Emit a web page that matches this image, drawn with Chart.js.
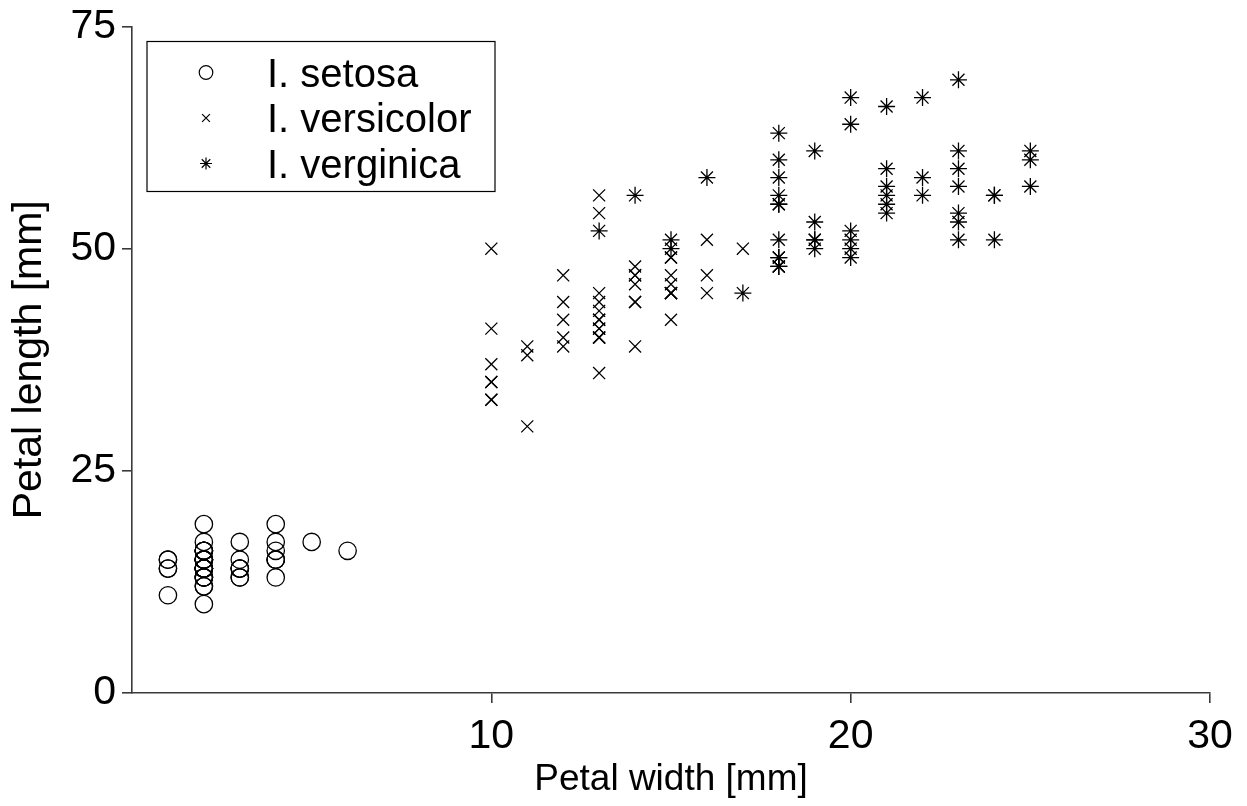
<!DOCTYPE html>
<html>
<head>
<meta charset="utf-8">
<script src="https://cdn.jsdelivr.net/npm/chart.js@4"></script>
<style>
  html, body { margin: 0; padding: 0; background: #fff; }
  #wrap { width: 1247px; height: 806px; }
</style>
</head>
<body>
<div id="wrap"><canvas id="irisChart"></canvas></div>
<script>
const speciesNames = ['I. setosa', 'I. versicolor', 'I. verginica'];

// petal width [mm] / petal length [mm]
const setosaWidth = [
    1, 1, 1, 1, 1,
    2, 2, 2, 2, 2, 2, 2, 2, 2, 2, 2, 2, 2, 2, 2, 2, 2, 2, 2, 2, 2, 2, 2, 2, 2, 2, 2, 2, 2,
    3, 3, 3, 3, 3, 3, 3,
    4, 4, 4, 4, 4, 4, 4,
    5, 6
];
const setosaLength = [
    15, 14, 11, 15, 14,
    14, 14, 13, 15, 14, 15, 14, 15, 16, 12, 17, 10, 19, 16, 15, 14, 16, 16, 14, 15, 12, 13, 13, 15, 13, 16, 14, 15, 14,
    14, 17, 14, 15, 13, 13, 14,
    17, 15, 13, 16, 15, 19, 15,
    17, 16
];

const versicolorWidth = [
    10, 10, 10, 10, 10, 10, 10,
    11, 11, 11,
    12, 12, 12, 12, 12,
    13, 13, 13, 13, 13, 13, 13, 13, 13, 13, 13, 13, 13,
    14, 14, 14, 14, 14, 14, 14,
    15, 15, 15, 15, 15, 15, 15, 15, 15, 15,
    16, 16, 16,
    17, 18
];
const versicolorLength = [
    33, 35, 50, 41, 35, 37, 33,
    39, 38, 30,
    47, 39, 44, 40, 42,
    40, 45, 56, 36, 40, 54, 44, 41, 40, 42, 42, 43, 41,
    47, 39, 47, 44, 48, 44, 46,
    45, 49, 46, 42, 45, 49, 45, 45, 45, 47,
    47, 51, 45,
    50, 48
];

const virginicaWidth = [
    13, 14, 15, 15, 16, 17,
    18, 18, 18, 18, 18, 18, 18, 18, 18, 18, 18,
    19, 19, 19, 19, 19,
    20, 20, 20, 20, 20, 20,
    21, 21, 21, 21, 21, 21,
    22, 22, 22,
    23, 23, 23, 23, 23, 23, 23,
    24, 24, 24,
    25, 25, 25
];
const virginicaLength = [
    52, 56, 50, 51, 58, 45,
    56, 63, 58, 55, 49, 60, 48, 49, 55, 48, 51,
    51, 53, 61, 51, 50,
    51, 50, 49, 67, 64, 52,
    59, 66, 55, 57, 56, 54,
    58, 67, 56,
    53, 69, 57, 61, 51, 59, 54,
    51, 56, 56,
    60, 61, 57
];

const xTicks = [10, 20, 30];
const yTicks = [0, 25, 50, 75];

const axisColor = '#3a3a3a';
const fontFamily = '"Liberation Sans", Arial, sans-serif';
const textSize = 41;

function toPoints(xs, ys) {
    return xs.map((x, i) => ({ x: x, y: ys[i] }));
}

// legend drawn inside the plot area, with a frame, like the original
const insideLegend = {
    id: 'insideLegend',
    afterDraw(chart) {
        const ctx = chart.ctx;
        const area = chart.chartArea;
        const left = area.left + 15;
        const top = area.top + 15;
        ctx.save();
        ctx.strokeStyle = '#000';
        ctx.lineWidth = 1.2;
        ctx.strokeRect(left, top, 348, 150);
        ctx.font = '40px ' + fontFamily;
        ctx.textBaseline = 'alphabetic';
        chart.data.datasets.forEach((ds, i) => {
            const y = top + 31 + i * 45.5;
            ctx.strokeStyle = '#000';
            ctx.fillStyle = 'rgba(0,0,0,0)';
            Chart.helpers.drawPoint(ctx, {
                pointStyle: ds.pointStyle,
                radius: ds.legendRadius,
                borderWidth: 1.2
            }, left + 59, y);
            ctx.fillStyle = '#000';
            ctx.fillText(ds.label, left + 120, y + 14);
        });
        ctx.restore();
    }
};

const ctx = document.getElementById('irisChart').getContext('2d');
new Chart(ctx, {
    type: 'scatter',
    data: {
        datasets: [
            {
                label: speciesNames[0],
                data: toPoints(setosaWidth, setosaLength),
                pointStyle: 'circle',
                pointRadius: 8.7,
                legendRadius: 6.8,
                borderColor: '#000',
                backgroundColor: 'rgba(0,0,0,0)',
                borderWidth: 1.3
            },
            {
                label: speciesNames[1],
                data: toPoints(versicolorWidth, versicolorLength),
                pointStyle: 'crossRot',
                pointRadius: 8.5,
                legendRadius: 5.5,
                borderColor: '#000',
                backgroundColor: 'rgba(0,0,0,0)',
                borderWidth: 1.3
            },
            {
                label: speciesNames[2],
                data: toPoints(virginicaWidth, virginicaLength),
                pointStyle: 'star',
                pointRadius: 8.5,
                legendRadius: 6,
                borderColor: '#000',
                backgroundColor: 'rgba(0,0,0,0)',
                borderWidth: 1.3
            }
        ]
    },
    options: {
        responsive: true,
        maintainAspectRatio: false,
        animation: false,
        layout: { padding: { top: 22, right: 37, left: 0, bottom: 0 } },
        plugins: {
            legend: { display: false },
            tooltip: { enabled: false }
        },
        scales: {
            x: {
                type: 'linear',
                min: 0,
                max: 30,
                afterFit(scale) { scale.height = 113; },
                afterBuildTicks(scale) {
                    scale.ticks = [0].concat(xTicks).map(v => ({ value: v }));
                },
                ticks: {
                    color: '#000',
                    font: { size: textSize, family: fontFamily, lineHeight: 1 },
                    padding: 13,
                    maxRotation: 0,
                    callback: v => (v === 0 ? '' : v)
                },
                grid: {
                    drawOnChartArea: false,
                    tickLength: 10,
                    lineWidth: 1.6,
                    color: c => (c.tick && c.tick.value === 0 ? 'rgba(0,0,0,0)' : axisColor)
                },
                border: { color: axisColor, width: 1.6 },
                title: {
                    display: true,
                    text: 'Petal width [mm]',
                    color: '#000',
                    font: { size: 37, family: fontFamily },
                    padding: { top: 0, bottom: 4 }
                }
            },
            y: {
                type: 'linear',
                min: 0,
                max: 75,
                afterFit(scale) { scale.width = 132; },
                afterBuildTicks(scale) {
                    scale.ticks = yTicks.map(v => ({ value: v }));
                },
                ticks: {
                    color: '#000',
                    font: { size: textSize, family: fontFamily, lineHeight: 1 },
                    padding: 6
                },
                grid: {
                    drawOnChartArea: false,
                    tickLength: 10,
                    lineWidth: 1.6,
                    color: axisColor
                },
                border: { color: axisColor, width: 1.6 },
                title: {
                    display: true,
                    text: 'Petal length [mm]',
                    color: '#000',
                    font: { size: textSize, family: fontFamily },
                    padding: { top: 5, bottom: 0 }
                }
            }
        }
    },
    plugins: [insideLegend]
});
</script>
</body>
</html>
